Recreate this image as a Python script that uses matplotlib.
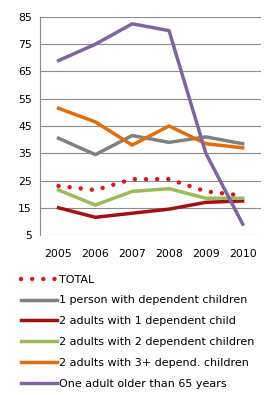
import matplotlib
matplotlib.use('Agg')
import matplotlib.pyplot as plt

years = ['2005', '2006', '2007', '2008', '2009', '2010']
total = [23, 21.5, 25.5, 25.5, 21, 19.5]
one_person = [40.5, 34.5, 41.5, 39, 41, 38.5]
two_adults_1 = [15, 11.5, 13, 14.5, 17, 17.5]
two_adults_2 = [21.5, 16, 21, 22, 18.5, 18.5]
two_adults_3 = [51.5, 46.5, 38, 45, 38.5, 37]
older_65 = [69, 75, 82.5, 80, 35, 9]

fig = plt.figure(figsize=(2.64, 3.95), dpi=100)
ax = fig.add_axes([0.152, 0.405, 0.837, 0.552])

x = range(len(years))
ax.plot(x, total, color='#E0141B', lw=3.2, linestyle=(0, (0.01, 2.5)),
        dash_capstyle='round', label='TOTAL', zorder=5)
ax.plot(x, one_person, color='#808080', lw=2.5, label='1 person with dependent children')
ax.plot(x, two_adults_1, color='#A50F0F', lw=2.5, label='2 adults with 1 dependent child')
ax.plot(x, two_adults_2, color='#9BBB59', lw=2.5, label='2 adults with 2 dependent children')
ax.plot(x, two_adults_3, color='#E46C0A', lw=2.5, label='2 adults with 3+ depend. children')
ax.plot(x, older_65, color='#8064A2', lw=2.5, label='One adult older than 65 years')

ax.set_xlim(-0.5, 5.5)
ax.set_ylim(5, 85)
ax.set_yticks(range(5, 86, 10))
ax.set_xticks(list(x))
ax.set_xticklabels(years)
ax.grid(axis='y', color='#8c8c8c', lw=0.8)
ax.set_axisbelow(True)
for s in ['top', 'right', 'bottom']:
    ax.spines[s].set_visible(False)
ax.spines['left'].set_color('#8c8c8c')
ax.tick_params(length=0, labelsize=7.8, pad=6)
ax.tick_params(axis='x', pad=10)

fig.legend(loc='upper left', bbox_to_anchor=(0.08, 0.305), frameon=False,
           fontsize=8, handlelength=3.2, handletextpad=0.25, labelspacing=0.98,
           borderpad=0, borderaxespad=0)

fig.savefig('out.png', dpi=100)
